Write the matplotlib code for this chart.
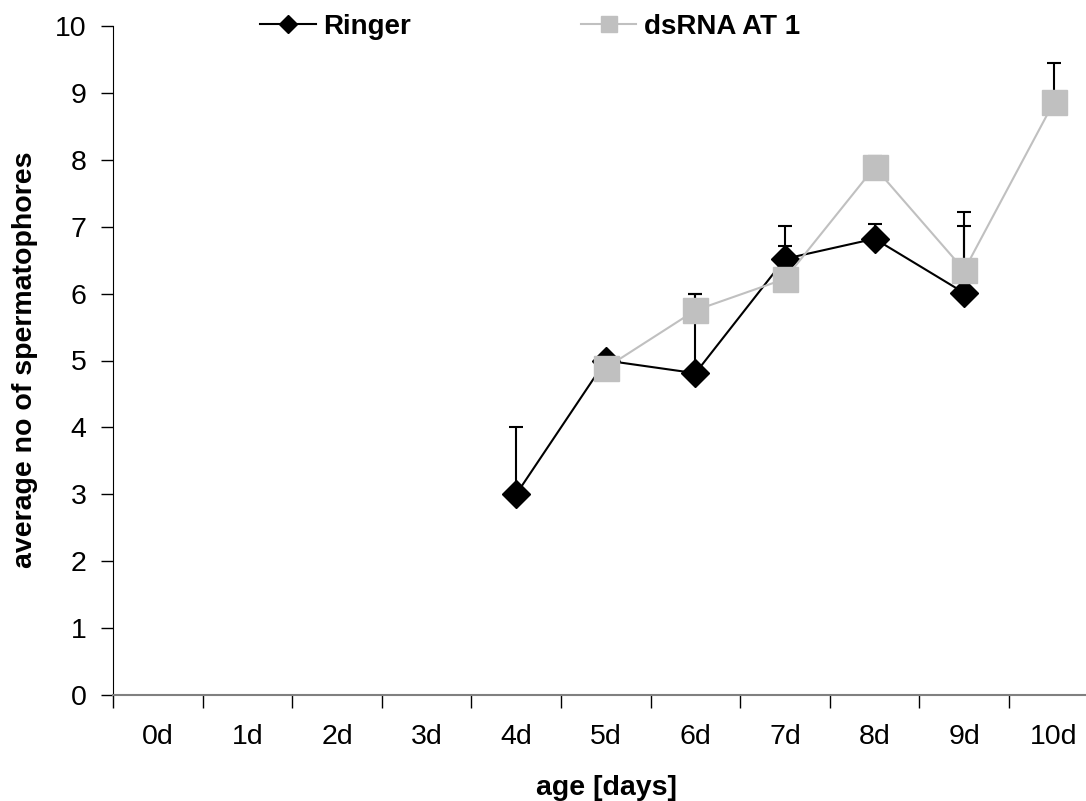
import numpy as np
import matplotlib.pyplot as plt

plt.rcParams['font.family'] = ['Liberation Sans', 'DejaVu Sans']

## Datos
dias = ['0d', '1d', '2d', '3d', '4d', '5d', '6d', '7d', '8d', '9d', '10d']
ringer = [np.nan, np.nan, np.nan, np.nan, 3.0, 5.0, 4.81, 6.52, 6.82, 6.01, np.nan]
ringer_err = [0, 0, 0, 0, 1.0, 0.0, 1.19, 0.49, 0.22, 1.0, 0]
dsrna = [np.nan, np.nan, np.nan, np.nan, np.nan, 4.89, 5.75, 6.22, 7.89, 6.35, 8.86]
dsrna_err = [0, 0, 0, 0, 0, 0.0, 0.25, 0.49, 0.17, 0.87, 0.59]

x = np.arange(len(dias))

fig = plt.figure(figsize=(10.86, 8.01), dpi=100)
ax = fig.add_axes([113/1086, 1-695/801, 985.6/1086, (695-26)/801])

## Ringer
ax.errorbar(x, ringer, yerr=[np.zeros(len(x)), ringer_err], fmt='none', ecolor='black',
            elinewidth=1.5, capsize=5, capthick=1.5, zorder=2)
ax.plot(x, ringer, color='black', lw=1.5, marker='D', ms=14, mfc='black', mec='black',
        label='Ringer', zorder=3)

## dsRNA AT 1
ax.errorbar(x, dsrna, yerr=[np.zeros(len(x)), dsrna_err], fmt='none', ecolor='black',
            elinewidth=1.5, capsize=5, capthick=1.5, zorder=4)
ax.plot(x, dsrna, color='#C0C0C0', lw=1.5, marker='s', ms=18, mfc='#C0C0C0', mec='#C0C0C0',
        label='dsRNA AT 1', zorder=5)

ax.set_xlim(-0.5, len(dias) - 0.5)
ax.set_ylim(0, 10)
ax.set_yticks(range(0, 11))
ax.tick_params(axis='y', direction='out', length=9, width=1, labelsize=20.5, pad=10)

# ticks entre categorias, etiquetas al centro
ax.set_xticks(np.arange(-0.5, len(dias), 1))
ax.set_xticklabels([])
ax.set_xticks(x, minor=True)
ax.set_xticklabels(dias, minor=True)
ax.tick_params(axis='x', which='major', direction='out', length=9, width=1)
ax.tick_params(axis='x', which='minor', length=0, labelsize=20.5, pad=21)

ax.spines['top'].set_visible(False)
ax.spines['right'].set_visible(False)
ax.spines['bottom'].set_color('#808080')
ax.spines['bottom'].set_linewidth(1.5)

fig.text(25/1086, 1-360/801, 'average no of spermatophores', rotation=90, ha='center',
         va='center', fontsize=20.5, fontweight='bold')
fig.text(606/1086, 1-795/801, 'age [days]', ha='center', va='baseline', fontsize=20.5,
         fontweight='bold')

leg = ax.legend(loc='center left', bbox_to_anchor=(260/1086, 1-27/801), bbox_transform=fig.transFigure,
                ncol=2, frameon=False, borderpad=0, borderaxespad=0, handlelength=2.0,
                handletextpad=0.29, columnspacing=6.1, markerscale=0.65,
                prop={'size': 20, 'weight': 'bold'})

fig.savefig('out.png', dpi=100)
